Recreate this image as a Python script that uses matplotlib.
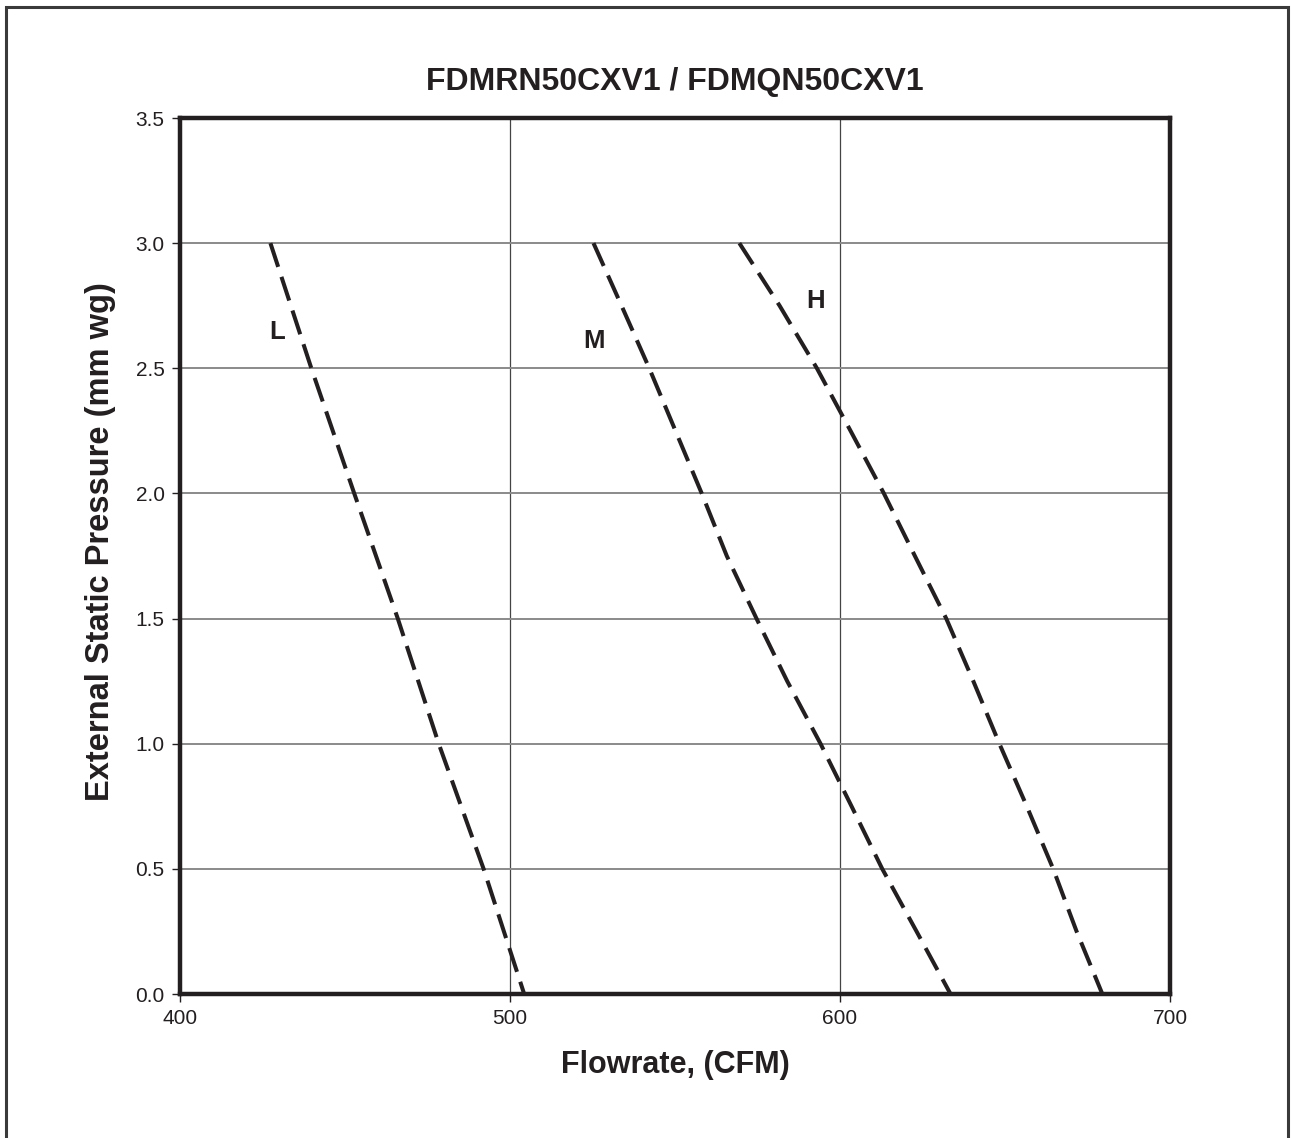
import matplotlib
matplotlib.use("Agg")
import matplotlib.pyplot as plt
from matplotlib.patches import Rectangle

plt.rcParams['font.family'] = ['Liberation Sans', 'DejaVu Sans']

INK = "#231f20"

# fan curves: pressure (mm wg) vs flowrate (CFM)
press_L = [3.0, 2.5, 2.0, 1.5, 1.0, 0.5, 0.0]
flow_L = [427.4, 439.8, 452.8, 466.0, 478.4, 492.0, 504.3]

press_M = [3.0, 2.75, 2.5, 2.0, 1.75, 1.5, 1.25, 1.0, 0.75, 0.5, 0.25, 0.0]
flow_M = [525.3, 533.8, 542.2, 558.1, 565.7, 574.7, 584.0, 594.1, 603.5, 612.8, 623.2, 633.5]

press_H = [3.0, 2.75, 2.5, 2.25, 2.0, 1.75, 1.5, 1.25, 1.0, 0.75, 0.5, 0.25, 0.0]
flow_H = [569.5, 581.7, 593.0, 603.2, 613.3, 622.7, 632.2, 640.4, 648.3, 656.6, 664.6, 671.7, 679.5]

curve_names = ["L", "M", "H"]
name_x = [429.4, 525.5, 592.7]
name_y = [2.645, 2.61, 2.77]

x_ticks = [400, 500, 600, 700]
y_ticks = [0.0, 0.5, 1.0, 1.5, 2.0, 2.5, 3.0, 3.5]

W, H = 1291, 1138
fig = plt.figure(figsize=(W / 100, H / 100), dpi=100)
ax = fig.add_axes([180 / W, 1 - 994 / H, 990 / W, 876 / H])

# outer frame of the figure (bottom edge is cut off in the original)
fig.patches.append(Rectangle((5.5 / W, -0.05), (1288 - 5.5) / W, 1.05 - 6.5 / H,
                             transform=fig.transFigure, fill=False,
                             lw=2.2, ec="#3a3a3a", clip_on=False))

dash = (0, (6.2, 2.6))
for xs, ys in [(flow_L, press_L), (flow_M, press_M), (flow_H, press_H)]:
    ax.plot(xs, ys, color=INK, lw=2.9, linestyle=dash,
            dash_capstyle="butt", zorder=3)

for name, x, y in zip(curve_names, name_x, name_y):
    ax.text(x, y, name, fontsize=18.5, fontweight="bold", color=INK,
            ha="center", va="center")

ax.set_xlim(400, 700)
ax.set_ylim(0, 3.5)
ax.set_xticks(x_ticks)
ax.set_yticks(y_ticks)
ax.set_yticklabels([f"{v:.1f}" for v in y_ticks])
ax.tick_params(direction="out", length=6, width=1, colors=INK, labelsize=15, pad=5)

ax.grid(axis="y", color="#8a8a8a", lw=1.4)
ax.grid(axis="x", color="#444444", lw=0.9)
ax.set_axisbelow(True)
for s in ax.spines.values():
    s.set_linewidth(3.2)
    s.set_color(INK)

ax.set_title("FDMRN50CXV1 / FDMQN50CXV1", fontsize=23, fontweight="bold",
             color=INK, pad=20)
ax.set_xlabel("Flowrate, (CFM)", fontsize=22, fontweight="bold", color=INK, labelpad=16)
ax.set_ylabel("External Static Pressure (mm wg)", fontsize=23.5, fontweight="bold",
              color=INK, labelpad=14)
ax.yaxis.label.set_y(0.517)

fig.savefig("out.png", dpi=100)
